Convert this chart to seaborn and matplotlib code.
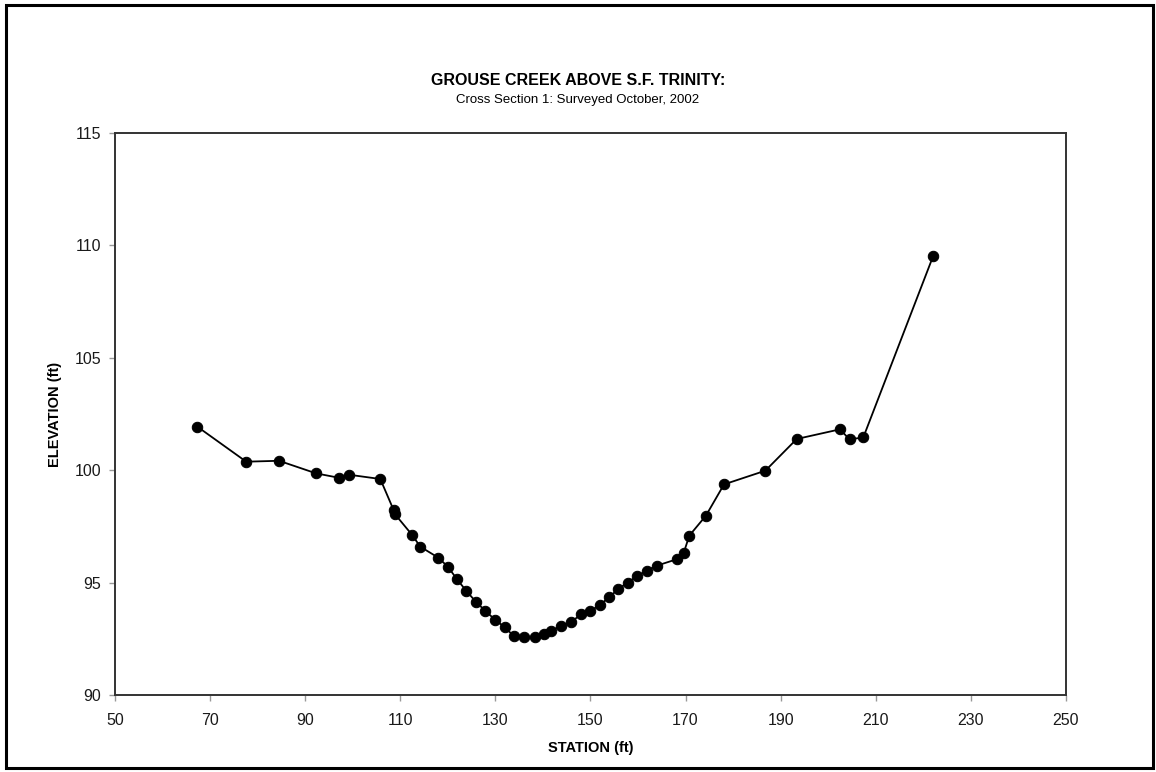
import numpy as np
import pandas as pd
import matplotlib
matplotlib.use("Agg")
import matplotlib.pyplot as plt
from matplotlib.patches import Rectangle
import seaborn as sns

# Surveyed points
station = [67.3, 77.6, 84.5, 92.3, 97.2, 99.2, 105.8, 108.6, 108.9, 112.5,
           114.2, 118.0, 120.0, 121.9, 123.9, 125.9, 127.9, 130.0, 132.0, 133.9,
           136.1, 138.3, 140.2, 141.7, 143.8, 146.0, 148.1, 150.0, 152.0, 153.9,
           155.8, 157.8, 159.8, 161.8, 163.9, 168.3, 169.6, 170.8, 174.3, 178.1,
           186.8, 193.4, 202.5, 204.5, 207.4, 222.1]
elevation = [101.94, 100.38, 100.42, 99.86, 99.66, 99.80, 99.61, 98.23, 98.04, 97.12,
             96.60, 96.11, 95.71, 95.16, 94.63, 94.15, 93.74, 93.34, 93.01, 92.62,
             92.56, 92.56, 92.71, 92.85, 93.08, 93.26, 93.60, 93.75, 94.00, 94.35,
             94.70, 95.00, 95.29, 95.53, 95.75, 96.05, 96.31, 97.09, 97.98, 99.37,
             99.98, 101.39, 101.82, 101.37, 101.46, 109.53]

x_ticks = [50, 70, 90, 110, 130, 150, 170, 190, 210, 230, 250]
y_ticks = [90, 95, 100, 105, 110, 115]

df = pd.DataFrame({"station": station, "elevation": elevation})

sns.set_style("white")
plt.rcParams["font.family"] = ["Liberation Sans", "DejaVu Sans"]
plt.rcParams["text.color"] = "black"
plt.rcParams["axes.labelcolor"] = "black"

fig = plt.figure(figsize=(11.56, 7.72), dpi=100)
ax = fig.add_axes([0.0995, 0.0997, 0.8225, 0.728])

sns.lineplot(data=df, x="station", y="elevation", sort=False, ax=ax,
             color="black", linewidth=1.3, marker="o", markersize=7.5,
             markeredgecolor="black", markerfacecolor="black")

ax.set_xlim(50, 250)
ax.set_ylim(90, 115)
ax.set_xticks(x_ticks)
ax.set_yticks(y_ticks)
ax.tick_params(axis="both", direction="out", length=4, width=1, color="#999999",
               labelsize=11.5, labelcolor="#1a1a1a", bottom=True, left=True)
ax.tick_params(axis="x", pad=9)
ax.tick_params(axis="y", pad=6)
for sp in ax.spines.values():
    sp.set_visible(True)
    sp.set_color("#333333")
    sp.set_linewidth(1.4)

ax.set_xlabel("STATION (ft)", fontsize=10.5, fontweight="bold", labelpad=9)
ax.set_ylabel("ELEVATION (ft)", fontsize=10.5, fontweight="bold", labelpad=9)

fig.text(0.5, 0.896, "GROUSE CREEK ABOVE S.F. TRINITY:", ha="center", va="center",
         fontsize=11.5, fontweight="bold")
fig.text(0.5, 0.870, "Cross Section 1: Surveyed October, 2002", ha="center",
         va="center", fontsize=9.5)

# black frame around the whole page
fig.patches.append(Rectangle((6 / 1156, 4 / 772), 1147 / 1156, 763 / 772,
                             transform=fig.transFigure, fill=False,
                             edgecolor="black", linewidth=2.2))

fig.savefig("out.png", dpi=100)
